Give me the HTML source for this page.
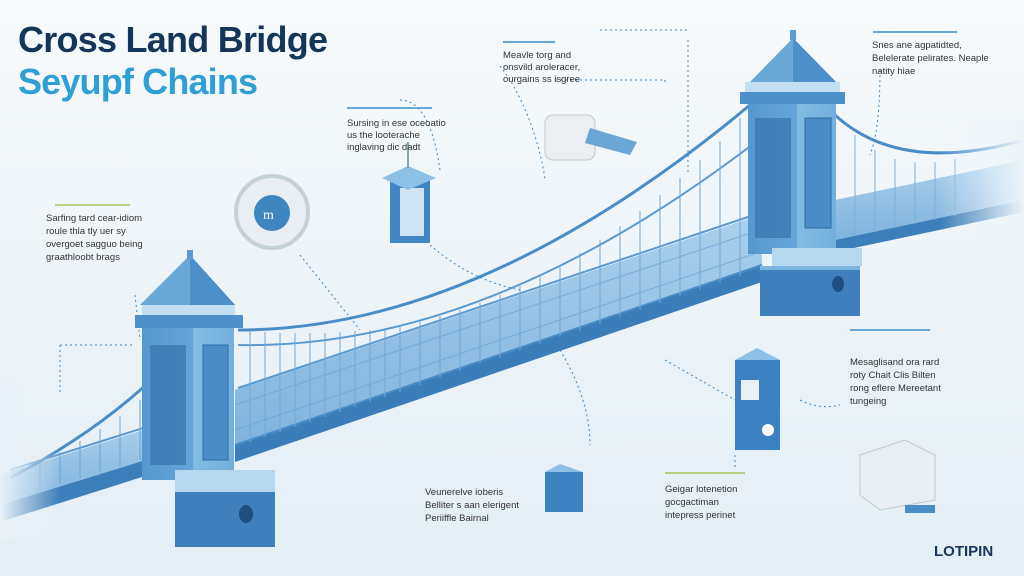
<!DOCTYPE html>
<html><head><meta charset="utf-8"><style>
body{margin:0;width:1024px;height:576px;overflow:hidden;background:#f3f8fb;font-family:"Liberation Sans",sans-serif}
svg{display:block}
</style></head><body>
<svg width="1024" height="576" viewBox="0 0 1024 576">
<defs>
<linearGradient id="bg" x1="0" y1="0" x2="0" y2="1"><stop offset="0" stop-color="#f7fafc"/><stop offset="1" stop-color="#e3eef5"/></linearGradient>
<linearGradient id="tw" x1="0" y1="0" x2="1" y2="0"><stop offset="0" stop-color="#5597cf"/><stop offset="0.55" stop-color="#64a4d8"/><stop offset="0.56" stop-color="#82bce4"/><stop offset="1" stop-color="#72afdc"/></linearGradient>
<linearGradient id="dk" x1="0" y1="0" x2="0" y2="1"><stop offset="0" stop-color="#a9d0ee"/><stop offset="1" stop-color="#7fb3dd"/></linearGradient>
<linearGradient id="fadeL" x1="0" y1="0" x2="1" y2="0"><stop offset="0" stop-color="#e8f1f7" stop-opacity="1"/><stop offset="1" stop-color="#e8f1f7" stop-opacity="0"/></linearGradient>
<linearGradient id="fadeR" x1="0" y1="0" x2="1" y2="0"><stop offset="0" stop-color="#eef5f9" stop-opacity="0"/><stop offset="1" stop-color="#eef5f9" stop-opacity="1"/></linearGradient>
</defs>
<rect width="1024" height="576" fill="url(#bg)"/>
<text x="18" y="52" font-size="36" font-weight="bold" fill="#15365a" textLength="310">Cross Land Bridge</text>
<text x="18" y="94" font-size="36" font-weight="bold" fill="#2f9fd4" textLength="240">Seyupf Chains</text>

<polygon points="0,475 175,420 178,450 0,505" fill="url(#dk)"/>
<polygon points="0,505 178,450 180,465 0,522" fill="#3d7fba"/>
<path d="M10,478 Q120,420 185,345" stroke="#4a8cc6" stroke-width="3" fill="none"/>
<path d="M10,470 L175,418" stroke="#5a9ad0" stroke-width="2" fill="none"/>
<g stroke="#6aa6d6" stroke-width="1">
<line x1="40" y1="462" x2="40" y2="490"/><line x1="60" y1="452" x2="60" y2="484"/><line x1="80" y1="441" x2="80" y2="478"/><line x1="100" y1="429" x2="100" y2="472"/><line x1="120" y1="416" x2="120" y2="466"/><line x1="140" y1="400" x2="140" y2="460"/><line x1="160" y1="380" x2="160" y2="454"/>
</g>
<rect x="0" y="380" width="60" height="160" fill="url(#fadeL)"/>

<polygon points="235,390 760,215 762,265 235,445" fill="url(#dk)"/>
<polygon points="235,445 762,265 762,282 235,462" fill="#3b7db8"/>
<g stroke="#6aa6d6" stroke-width="1" fill="none" opacity=".8">
<line x1="235" y1="405" x2="760" y2="230"/><line x1="235" y1="430" x2="760" y2="252"/>
</g>
<path d="M235,445 L762,265" stroke="#4a8cc6" stroke-width="2"/>
<path d="M238,330 Q480,330 750,105" stroke="#4a8cc6" stroke-width="3" fill="none"/>
<path d="M238,345 Q500,350 790,115" stroke="#5a9ad0" stroke-width="2" fill="none"/>
<path d="M238,388 L760,213" stroke="#5a9ad0" stroke-width="2" fill="none"/>
<g stroke="#6ea8d8" stroke-width="1">
<line x1="250" y1="331" x2="250" y2="442"/><line x1="265" y1="332" x2="265" y2="437"/><line x1="280" y1="333" x2="280" y2="432"/><line x1="295" y1="333" x2="295" y2="427"/><line x1="310" y1="333" x2="310" y2="422"/><line x1="325" y1="333" x2="325" y2="417"/><line x1="340" y1="332" x2="340" y2="412"/><line x1="355" y1="331" x2="355" y2="407"/><line x1="370" y1="330" x2="370" y2="402"/><line x1="385" y1="328" x2="385" y2="397"/><line x1="400" y1="325" x2="400" y2="392"/><line x1="420" y1="321" x2="420" y2="385"/><line x1="440" y1="316" x2="440" y2="378"/><line x1="460" y1="310" x2="460" y2="371"/><line x1="480" y1="303" x2="480" y2="364"/><line x1="500" y1="295" x2="500" y2="358"/><line x1="520" y1="286" x2="520" y2="351"/><line x1="540" y1="276" x2="540" y2="344"/><line x1="560" y1="265" x2="560" y2="337"/><line x1="580" y1="253" x2="580" y2="331"/><line x1="600" y1="240" x2="600" y2="324"/><line x1="620" y1="226" x2="620" y2="317"/><line x1="640" y1="211" x2="640" y2="310"/><line x1="660" y1="195" x2="660" y2="303"/><line x1="680" y1="178" x2="680" y2="296"/><line x1="700" y1="160" x2="700" y2="290"/><line x1="720" y1="141" x2="720" y2="283"/><line x1="740" y1="118" x2="740" y2="276"/>
</g>
<polygon points="835,200 1024,160 1024,200 835,240" fill="url(#dk)"/>
<polygon points="835,240 1024,200 1024,212 835,252" fill="#3d7fba"/>
<path d="M835,115 Q900,175 1024,140" stroke="#4a8cc6" stroke-width="3" fill="none"/>
<g stroke="#7ab0dc" stroke-width="1">
<line x1="855" y1="135" x2="855" y2="236"/><line x1="875" y1="150" x2="875" y2="232"/><line x1="895" y1="159" x2="895" y2="228"/><line x1="915" y1="162" x2="915" y2="224"/><line x1="935" y1="162" x2="935" y2="220"/><line x1="955" y1="159" x2="955" y2="216"/>
</g>
<rect x="940" y="120" width="84" height="140" fill="url(#fadeR)"/>

<polygon points="793,38 750,82 836,82" fill="#6aa8d8"/>
<polygon points="793,38 836,82 793,82" fill="#4d8fc8"/>
<rect x="790" y="30" width="6" height="10" fill="#5a9dd3"/>
<rect x="745" y="82" width="95" height="10" fill="#c2dff3"/>
<rect x="740" y="92" width="105" height="12" fill="#4d8fc8"/>
<rect x="748" y="104" width="88" height="150" fill="url(#tw)"/>
<rect x="755" y="118" width="36" height="120" fill="#3a78b2" opacity=".8"/>
<rect x="805" y="118" width="26" height="110" fill="#4a8cc6" stroke="#2d6aa4"/>
<rect x="772" y="248" width="90" height="18" fill="#b5d7f0"/>
<rect x="760" y="266" width="100" height="50" fill="#3f80bc"/>
<rect x="760" y="266" width="100" height="4" fill="#7ab5e0"/>
<ellipse cx="838" cy="284" rx="6" ry="8" fill="#1f4f80"/>

<polygon points="190,255 140,305 235,305" fill="#6aa8d8"/>
<polygon points="190,255 235,305 190,305" fill="#4d8fc8"/>
<rect x="187" y="250" width="6" height="10" fill="#5a9dd3"/>
<rect x="142" y="305" width="93" height="10" fill="#c2dff3"/>
<rect x="135" y="315" width="108" height="13" fill="#4d8fc8"/>
<rect x="142" y="328" width="92" height="152" fill="url(#tw)"/>
<rect x="150" y="345" width="36" height="120" fill="#3a78b2" opacity=".8"/>
<rect x="203" y="345" width="25" height="115" fill="#4a8cc6" stroke="#2d6aa4"/>
<rect x="175" y="470" width="100" height="22" fill="#b5d7f0"/>
<rect x="175" y="492" width="100" height="55" fill="#3f80bc"/>
<ellipse cx="246" cy="514" rx="7" ry="9" fill="#1f4f80"/>

<circle cx="272" cy="212" r="36" fill="#e8eef3" stroke="#c5d0d9" stroke-width="4"/>
<circle cx="272" cy="213" r="18" fill="#3f85c0"/>
<text x="263" y="219" font-size="14" fill="#fff" font-family="Liberation Serif">m</text>
<rect x="390" y="178" width="40" height="65" fill="#3e86c4"/><rect x="400" y="188" width="24" height="48" fill="#cfe3f3"/>
<polygon points="382,178 408,166 436,178 408,190" fill="#8cc0e6"/>
<line x1="408" y1="142" x2="408" y2="168" stroke="#8aa" stroke-width="2"/>
<rect x="545" y="115" width="50" height="45" rx="8" fill="#eceff2" stroke="#c0c8cf"/>
<polygon points="590,128 637,142 630,155 585,143" fill="#6aa6d6"/>
<rect x="735" y="360" width="45" height="90" fill="#3c82c0"/><rect x="741" y="380" width="18" height="20" fill="#e8f0f7"/>
<circle cx="768" cy="430" r="6" fill="#fff"/>
<polygon points="735,360 757,348 780,360" fill="#8cc0e6"/>
<rect x="545" y="472" width="38" height="40" fill="#3c82c0"/><polygon points="545,472 560,464 583,472" fill="#8cc0e6"/>
<polygon points="860,455 905,440 935,455 935,500 880,510 860,495" fill="#e9eef2" stroke="#c0c9d0"/>
<rect x="905" y="505" width="30" height="8" fill="#4a8cc6"/>

<g stroke="#3c8cc8" stroke-width="1" stroke-dasharray="2,3" fill="none">
<path d="M500,66 C520,90 540,140 545,180"/><path d="M300,255 L360,330"/>
<path d="M430,245 Q470,280 520,290"/>
<path d="M555,80 H665 V85"/>
<path d="M688,40 V175"/><path d="M600,30 H688"/>
<path d="M440,170 Q430,100 400,100"/>
<path d="M560,350 Q590,400 590,445"/>
<path d="M60,345 H135"/><path d="M60,345 V395"/>
<path d="M665,360 L735,400"/><path d="M800,400 Q820,410 840,405"/>
<path d="M735,455 V470"/><path d="M880,70 Q880,130 870,155"/>
<path d="M135,295 L140,340"/>
</g>
<g stroke="#9dbb3a" stroke-width="1.2">
<line x1="55" y1="205" x2="130" y2="205"/><line x1="665" y1="473" x2="745" y2="473"/>
</g>
<g stroke="#3c8cc8" stroke-width="1.5"><line x1="347" y1="108" x2="432" y2="108"/><line x1="503" y1="42" x2="555" y2="42"/><line x1="873" y1="32" x2="957" y2="32"/><line x1="850" y1="330" x2="930" y2="330"/></g>

<g font-size="9.5" fill="#333">
<text x="46" y="221">Sarfing tard cear-idiom</text><text x="46" y="234">roule thla tly uer sy</text><text x="46" y="247">overgoet sagguo being</text><text x="46" y="260">graathloobt brags</text>
<text x="347" y="126">Sursing in ese oceoatio</text><text x="347" y="138">us the looterache</text><text x="347" y="150">inglaving dic dadt</text>
<text x="503" y="58">Meavle torg and</text><text x="503" y="70">onsvild aroleracer,</text><text x="503" y="82">ourgains ss isgree</text>
<text x="872" y="48">Snes ane agpatidted,</text><text x="872" y="61">Belelerate pelirates. Neaple</text><text x="872" y="74">natity hiae</text>
<text x="850" y="365">Mesaglisand ora rard</text><text x="850" y="378">roty Chait Clis Bilten</text><text x="850" y="391">rong eflere Mereetant</text><text x="850" y="404">tungeing</text>
<text x="425" y="495">Veunerelve ioberis</text><text x="425" y="508">Belliter s aan elerigent</text><text x="425" y="521">Periiffle Bairnal</text>
<text x="665" y="492">Geigar lotenetion</text><text x="665" y="505">gocgactiman</text><text x="665" y="518">intepress perinet</text>
</g>
<text x="934" y="556" font-size="15" font-weight="bold" fill="#15365a">LOTIPIN</text>
</svg>
</body></html>
